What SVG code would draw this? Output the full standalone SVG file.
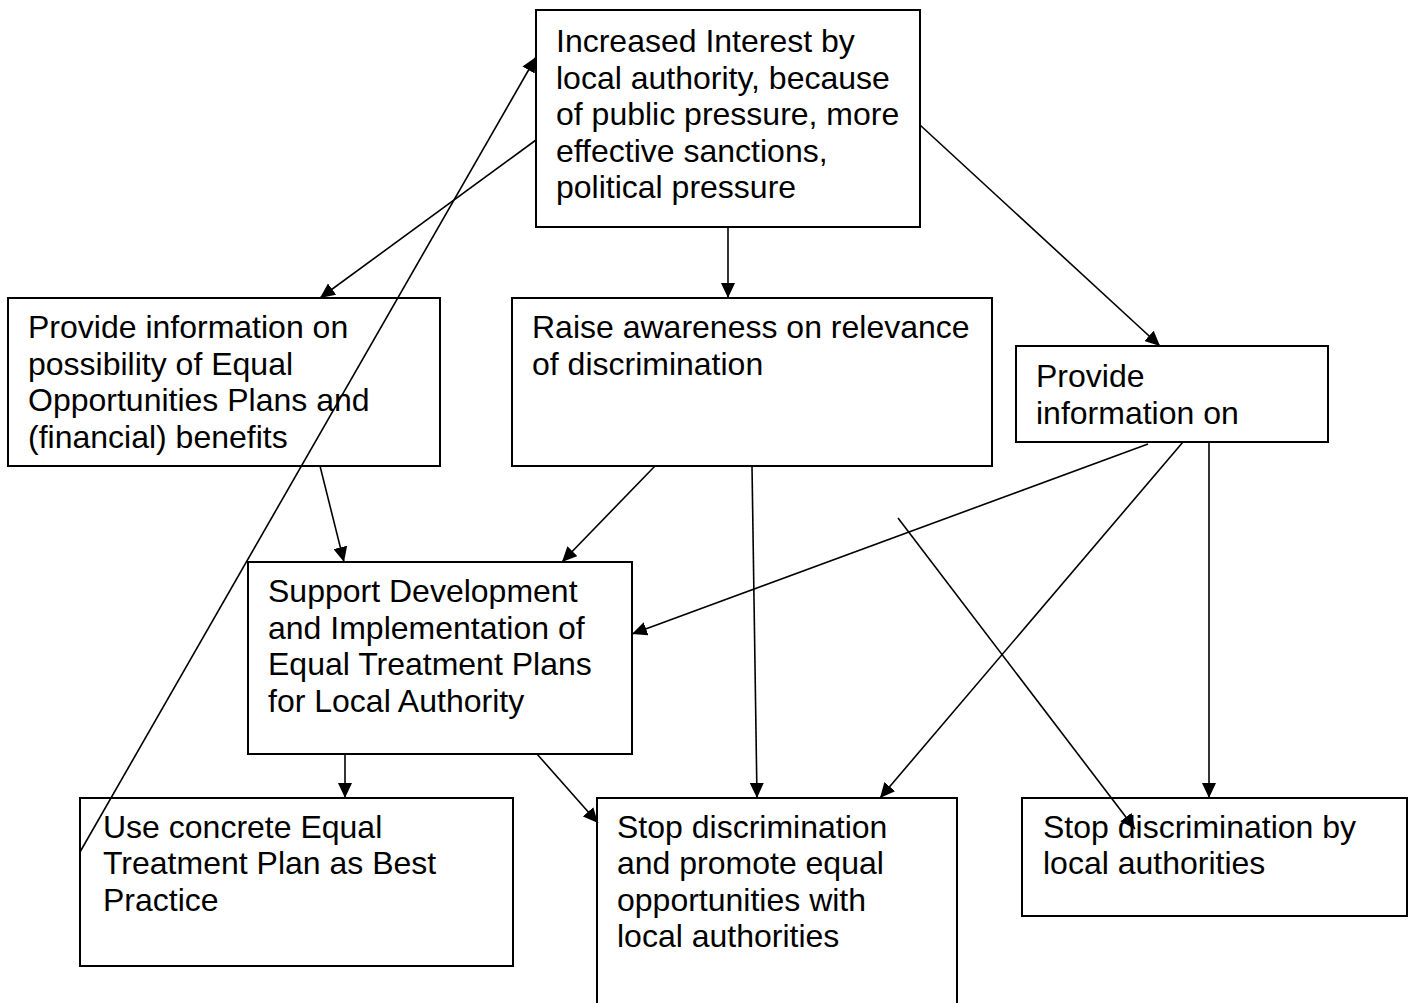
<svg xmlns="http://www.w3.org/2000/svg" width="1415" height="1003" viewBox="0 0 1415 1003">
  <style>
    .box { fill: #fff; stroke: #000; stroke-width: 2; }
    .lbl { font-family: "Liberation Sans", Arial, sans-serif; font-size: 32px; fill: #000; }
    .edge { stroke: #000; stroke-width: 1.6; fill: none; marker-end: url(#ah); }
  </style>
  <defs>
    <marker id="ah" viewBox="0 0 15 14" refX="15" refY="7" markerWidth="15" markerHeight="14" markerUnits="userSpaceOnUse" orient="auto">
      <path d="M0,0 L15,7 L0,14 Z" fill="#000"/>
    </marker>
  </defs>

  <g id="n-interest">
    <rect class="box" x="536" y="10" width="384" height="217"/>
    <text class="lbl" x="556" y="52">Increased Interest by</text>
    <text class="lbl" x="556" y="89">local authority, because</text>
    <text class="lbl" x="556" y="125">of public pressure, more</text>
    <text class="lbl" x="556" y="162">effective sanctions,</text>
    <text class="lbl" x="556" y="198">political pressure</text>
  </g>

  <g id="n-info-plans">
    <rect class="box" x="8" y="298" width="432" height="168"/>
    <text class="lbl" x="28" y="338">Provide information on</text>
    <text class="lbl" x="28" y="375">possibility of Equal</text>
    <text class="lbl" x="28" y="411">Opportunities Plans and</text>
    <text class="lbl" x="28" y="448">(financial) benefits</text>
  </g>

  <g id="n-awareness">
    <rect class="box" x="512" y="298" width="480" height="168"/>
    <text class="lbl" x="532" y="338">Raise awareness on relevance</text>
    <text class="lbl" x="532" y="375">of discrimination</text>
  </g>

  <g id="n-info">
    <rect class="box" x="1016" y="346" width="312" height="96"/>
    <text class="lbl" x="1036" y="387">Provide</text>
    <text class="lbl" x="1036" y="424">information on</text>
  </g>

  <g id="n-support">
    <rect class="box" x="248" y="562" width="384" height="192"/>
    <text class="lbl" x="268" y="602">Support Development</text>
    <text class="lbl" x="268" y="639">and Implementation of</text>
    <text class="lbl" x="268" y="675">Equal Treatment Plans</text>
    <text class="lbl" x="268" y="712">for Local Authority</text>
  </g>

  <g id="n-best-practice">
    <rect class="box" x="80" y="798" width="433" height="168"/>
    <text class="lbl" x="103" y="838">Use concrete Equal</text>
    <text class="lbl" x="103" y="874">Treatment Plan as Best</text>
    <text class="lbl" x="103" y="911">Practice</text>
  </g>

  <g id="n-stop-promote">
    <rect class="box" x="597" y="798" width="360" height="215"/>
    <text class="lbl" x="617" y="838">Stop discrimination</text>
    <text class="lbl" x="617" y="874">and promote equal</text>
    <text class="lbl" x="617" y="911">opportunities with</text>
    <text class="lbl" x="617" y="947">local authorities</text>
  </g>

  <g id="n-stop-by">
    <rect class="box" x="1022" y="798" width="385" height="118"/>
    <text class="lbl" x="1043" y="838">Stop discrimination by</text>
    <text class="lbl" x="1043" y="874">local authorities</text>
  </g>

  <g id="connectors">
    <line class="edge" x1="536" y1="140" x2="320" y2="298"/>
    <line class="edge" x1="728" y1="227" x2="728" y2="298"/>
    <line class="edge" x1="920" y1="125" x2="1160" y2="346"/>
    <line class="edge" x1="80" y1="852" x2="536" y2="57"/>
    <line class="edge" x1="320" y1="466" x2="344" y2="562"/>
    <line class="edge" x1="655" y1="466" x2="562" y2="562"/>
    <line class="edge" x1="752" y1="466" x2="757" y2="798"/>
    <line class="edge" x1="1148" y1="444" x2="632" y2="634"/>
    <line class="edge" x1="1183" y1="442" x2="880" y2="798"/>
    <line class="edge" x1="1209" y1="442" x2="1209" y2="798"/>
    <line class="edge" x1="898" y1="518" x2="1135" y2="829"/>
    <line class="edge" x1="345" y1="754" x2="345" y2="798"/>
    <line class="edge" x1="537" y1="754" x2="598" y2="823"/>
  </g>
</svg>
